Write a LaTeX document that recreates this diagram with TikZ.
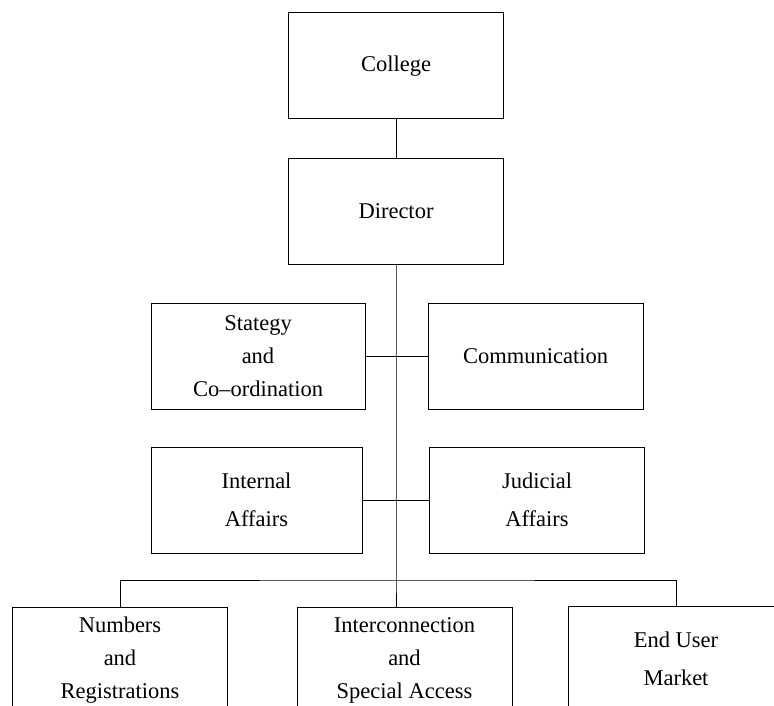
\documentclass[tikz,border=0pt]{standalone}
\usepackage{fontspec}
\setmainfont{Liberation Serif}

\begin{document}
\begin{tikzpicture}[x=1pt, y=-1pt, line width=1pt,
    unit/.style={draw, minimum width=215pt, minimum height=106pt, align=center,
      font=\fontsize{22.5}{33}\selectfont}]
    \clip (0,0) rectangle (774,706);
    % Top of the chart
    \node[unit] (college) at (396,66) {College};
    \node[unit] (director) at (396,211.5) {Director};
    % Staff units either side of the trunk
    \node[unit, minimum width=214pt] (strategy) at (258,356) {Stategy\\and\\Co--ordination};
    \node[unit] (comm) at (535.5,356) {Communication};
    \node[unit, minimum width=211pt] (internal) at (256.5,500) {Internal\\[5pt]Affairs};
    \node[unit] (judicial) at (537,500) {Judicial\\[5pt]Affairs};
    % Line departments
    \node[unit] (numbers) at (120,660) {Numbers\\and\\Registrations};
    \node[unit] (interconn) at (404.5,660) {Interconnection\\and\\Special Access};
    \node[unit] (enduser) at (676,659) {End User\\[5pt]Market};
    \coordinate (bus) at (396,580);
    % Connections
    \draw (college) -- (director);
    \draw (director) -- (bus) -- (interconn.north -| bus);
    \draw (strategy.east) -- (comm.west);
    \draw (internal.east) -- (judicial.west);
    \draw (numbers.north) |- (bus) -| (enduser.north);
\end{tikzpicture}
\end{document}
